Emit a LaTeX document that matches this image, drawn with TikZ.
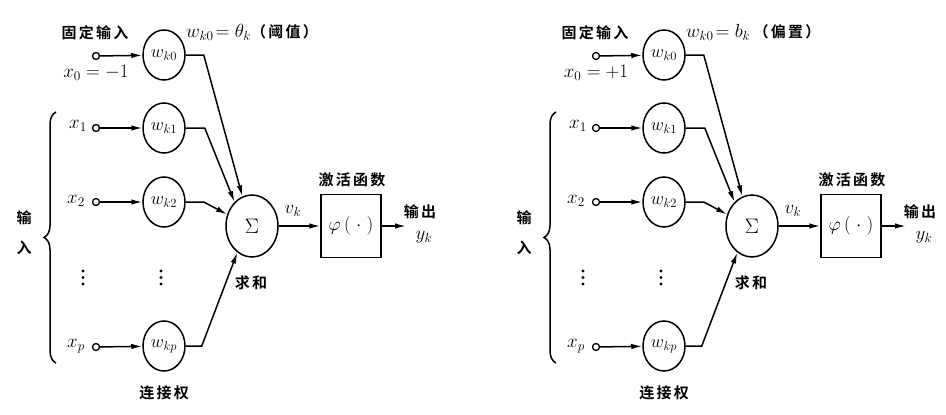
\documentclass[tikz,border=0pt]{standalone}
\usepackage{fix-cm}
\usepackage{fontspec}
\newfontfamily\cjk[LetterSpace=15,BoldFont={Noto Sans CJK SC Bold}]{Noto Sans CJK SC}
\usetikzlibrary{arrows.meta,shapes.geometric,decorations.pathreplacing}
\tikzset{
 wt/.style={ellipse,draw,line width=1.5pt,minimum width=42pt,minimum height=50pt,inner sep=0pt,font=\fontsize{18}{21}\selectfont},
 sumnode/.style={ellipse,draw,line width=1.5pt,minimum width=52pt,minimum height=62pt,inner sep=0pt,font=\fontsize{21}{24}\selectfont},
 actbox/.style={draw,line width=1.5pt,minimum width=60pt,minimum height=63pt,inner sep=0pt,font=\fontsize{19}{22}\selectfont},
 src/.style={circle,draw,line width=1.3pt,minimum size=7pt,inner sep=0pt},
 dotn/.style={circle,fill,minimum size=3.4pt,inner sep=0pt},
 cn/.style={font=\fontsize{15}{18}\selectfont\cjk\bfseries,inner sep=0pt},
 mt/.style={font=\fontsize{19}{22}\selectfont,inner sep=0pt},
 arr/.style={line width=1.5pt,-{Latex[length=11pt,width=5.5pt]}},
 ln/.style={line width=1.5pt},
}
\newcommand\cjksmall[1]{{\fontsize{15}{18}\selectfont\cjk\bfseries #1}}
\newcommand\nnpanel[4]{%
\begin{scope}[xshift=#2,name prefix=#1-]
 % weights
 \node[src] (s0) at (96,56) {};
 \node[wt] (w0) at (164,55) {$w_{k0}$};
 \node[src] (s1) at (96,128) {};
 \node[wt] (w1) at (164,128) {$w_{k1}$};
 \node[src] (s2) at (96,202) {};
 \node[wt] (w2) at (164,202) {$w_{k2}$};
 \node[src] (sp) at (96,347) {};
 \node[wt] (wp) at (164,346) {$w_{kp}$};
 \node[sumnode] (sum) at (252,226) {$\Sigma$};
 \node[actbox] (act) at (351,226) {$\varphi\,(\;\cdot\;)$};
 \coordinate (out) at (406,226);
 % labels
 \node[cn] (fix) at (95,33) {固定输入};
 \node[mt] (x0) at (96,73) {$x_0=#3$};
 \node[mt,anchor=west] (wlab) at (186,32) {#4};
 \node[mt] (x1) at (78,126) {$x_1$};
 \node[mt] (x2) at (76,201) {$x_2$};
 \node[mt] (xp) at (76,346) {$x_p$};
 \node[dotn] (da1) at (83,271) {};
 \node[dotn] (da2) at (83,277.5) {};
 \node[dotn] (da3) at (83,284) {};
 \node[dotn] (db1) at (161,271) {};
 \node[dotn] (db2) at (161,277.5) {};
 \node[dotn] (db3) at (161,284) {};
 \node[cn] (in1) at (24,218) {输};
 \node[cn] (in2) at (24,248) {入};
 \node[mt] (vk) at (293,211) {$v_k$};
 \node[cn] (actlab) at (352,180) {激活函数};
 \node[cn] (outlab) at (420,212) {输出};
 \node[mt] (yk) at (424,237) {$y_k$};
 \node[cn] (sumlab) at (251,283) {求和};
 \node[cn] (wlab2) at (164,393) {连接权};
 % brace
 \draw[ln,decorate,decoration={brace,amplitude=12pt}] (56,363) -- (56,112);
 % connectors
 \draw[arr] (s0) -- (w0);
 \draw[arr] (s1) -- (w1);
 \draw[arr] (s2) -- (w2);
 \draw[arr] (sp) -- (wp);
 \draw[arr] (w0.east) -- ++(18,0) -- (sum.108);
 \draw[arr] (w1.east) -- ++(19,0) -- (sum.126);
 \draw[arr] (w2.east) -- ++(18,0) -- (sum.155);
 \draw[arr] (wp.east) -- ++(16,0) -- (sum.241);
 \draw[arr] (sum) -- (act);
 \draw[arr] (act) -- (out);
\end{scope}}
\begin{document}
\begin{tikzpicture}[x=1pt,y=-1pt]
 \useasboundingbox (0,0) rectangle (946,415);
 \nnpanel{L}{0pt}{-1}{$w_{k0}\!=\theta_k$\cjksmall{（阈值）}}
 \nnpanel{R}{500pt}{+1}{$w_{k0}\!=b_k$\,\cjksmall{（偏置）}}
\end{tikzpicture}
\end{document}
